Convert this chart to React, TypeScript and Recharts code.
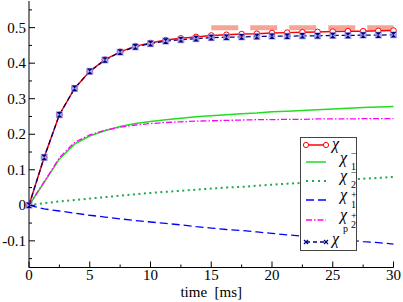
import { Legend, Line, LineChart, XAxis, YAxis } from "recharts";

const time = [0, 1.25, 2.5, 3.75, 5, 6.25, 7.5, 8.75, 10, 11.25, 12.5, 13.75, 15, 16.25, 17.5, 18.75, 20, 21.25, 22.5, 23.75, 25, 26.25, 27.5, 28.75, 30];
const chi = [0, 0.135, 0.255, 0.329, 0.377, 0.41, 0.432, 0.448, 0.457, 0.465, 0.47, 0.474, 0.478, 0.48, 0.482, 0.483, 0.485, 0.486, 0.487, 0.488, 0.489, 0.49, 0.49, 0.491, 0.492];
const chiP = [0, 0.135, 0.255, 0.329, 0.377, 0.409, 0.431, 0.446, 0.455, 0.462, 0.466, 0.469, 0.472, 0.473, 0.474, 0.475, 0.476, 0.476, 0.477, 0.477, 0.478, 0.478, 0.479, 0.479, 0.48];
const chi1Minus = [0, 0.065, 0.13, 0.172, 0.195, 0.21, 0.222, 0.23, 0.236, 0.241, 0.245, 0.249, 0.252, 0.255, 0.258, 0.26, 0.263, 0.265, 0.267, 0.269, 0.271, 0.273, 0.275, 0.277, 0.278];
const chi2Minus = [0, 0.006, 0.011, 0.015, 0.019, 0.023, 0.027, 0.031, 0.035, 0.038, 0.041, 0.044, 0.047, 0.05, 0.052, 0.055, 0.058, 0.061, 0.063, 0.066, 0.069, 0.072, 0.075, 0.077, 0.08];
const chi1Plus = [0, -0.01, -0.016, -0.022, -0.028, -0.033, -0.038, -0.043, -0.047, -0.051, -0.055, -0.06, -0.064, -0.068, -0.071, -0.075, -0.079, -0.083, -0.087, -0.09, -0.094, -0.098, -0.102, -0.105, -0.109];
const chi2Plus = [0, 0.066, 0.134, 0.177, 0.198, 0.211, 0.22, 0.226, 0.23, 0.233, 0.235, 0.237, 0.238, 0.239, 0.24, 0.241, 0.241, 0.242, 0.242, 0.243, 0.243, 0.243, 0.244, 0.244, 0.244];
// asymptote, only drawn from 15 ms on
const limit = [null, null, null, null, null, null, null, null, null, null, null, null, 0.5, 0.5, 0.5, 0.5, 0.5, 0.5, 0.5, 0.5, 0.5, 0.5, 0.5, 0.5, 0.5];

const xTicks = [0, 2.5, 5, 7.5, 10, 12.5, 15, 17.5, 20, 22.5, 25, 27.5, 30];
const yTicks = [-0.15, -0.1, -0.05, 0, 0.05, 0.1, 0.15, 0.2, 0.25, 0.3, 0.35, 0.4, 0.45, 0.5, 0.55];

const data = time.map((t, i) => ({
  t,
  chi: chi[i],
  chiP: chiP[i],
  chi1m: chi1Minus[i],
  chi2m: chi2Minus[i],
  chi1p: chi1Plus[i],
  chi2p: chi2Plus[i],
  limit: limit[i],
}));

const FONT = "'Liberation Serif', serif";

const isMajor = (v: number, step: number) => Math.abs(v / step - Math.round(v / step)) < 1e-6;
const yLabel = (v: number) => (Math.abs(v) < 1e-9 ? "0" : v.toFixed(1));

function BottomTick({ x, y, payload }: any) {
  const v = payload.value;
  const major = isMajor(v, 5);
  return (
    <g>
      <line x1={x} x2={x} y1={y} y2={y - (major ? 6 : 3)} stroke="#000" />
      {major && (
        <text x={x} y={y + 12.5} textAnchor="middle" fontFamily={FONT} fontSize={15} style={{ fontFamily: FONT, fontSize: 15 }} fill="#000">
          {v}
        </text>
      )}
    </g>
  );
}

function TopTick({ x, y, payload }: any) {
  const major = isMajor(payload.value, 5);
  return <line x1={x} x2={x} y1={y} y2={y + (major ? 6 : 3)} stroke="#000" />;
}

function LeftTick({ x, y, payload }: any) {
  const v = payload.value;
  const major = isMajor(v, 0.1);
  return (
    <g>
      <line x1={x} x2={x + (major ? 6 : 3)} y1={y} y2={y} stroke="#000" />
      {major && (
        <text x={x - 3} y={y + 5} textAnchor="end" fontFamily={FONT} fontSize={15} style={{ fontFamily: FONT, fontSize: 15 }} fill="#000">
          {yLabel(v)}
        </text>
      )}
    </g>
  );
}

function RightTick({ x, y, payload }: any) {
  const major = isMajor(payload.value, 0.1);
  return <line x1={x} x2={x - (major ? 6 : 3)} y1={y} y2={y} stroke="#000" />;
}

function TimeLabel({ viewBox }: any) {
  if (!viewBox) return null;
  return (
    <text
      x={viewBox.x + viewBox.width / 2}
      y={viewBox.y + viewBox.height - 5}
      textAnchor="middle"
      fontFamily={FONT}
      fontSize={15}
      style={{ fontFamily: FONT, fontSize: 15, whiteSpace: "pre" }}
      fill="#000"
    >
      {"time  [ms]"}
    </text>
  );
}

function ChiPDot({ cx, cy }: any) {
  if (cx == null || cy == null) return null;
  return (
    <g>
      <rect x={cx - 3.5} y={cy - 3.5} width={7} height={7} fill="#8f8fe6" fillOpacity={0.75} />
      <path d={`M${cx - 2.8},${cy - 2.8}L${cx + 2.8},${cy - 2.8}L${cx - 2.8},${cy + 2.8}L${cx + 2.8},${cy + 2.8}Z`} fill="#000080" />
    </g>
  );
}

// legend rows: y of the sample line / chi / scripts inside the box
const legendRows = [
  { key: "chi", line: 7, chiY: 9, chiX: 31, sup: "", supY: 0, supX: 0, sub: "", subY: 0, color: "#ff0000", dash: "", marker: "circle" },
  { key: "chi1m", line: 24, chiY: 23, chiX: 39, sup: "\u2212", supY: 16, supX: 50, sub: "1", subY: 29, color: "#22dd22", dash: "", marker: "" },
  { key: "chi2m", line: 43, chiY: 41, chiX: 39, sup: "\u2212", supY: 35, supX: 50, sub: "2", subY: 47, color: "#20a850", dash: "2 4", marker: "" },
  { key: "chi1p", line: 62, chiY: 60, chiX: 39, sup: "+", supY: 56.5, supX: 50, sub: "1", subY: 67, color: "#0000ff", dash: "8 4", marker: "" },
  { key: "chi2p", line: 82, chiY: 80.5, chiX: 39, sup: "+", supY: 77.5, supX: 50, sub: "2", subY: 87, color: "#ff00ff", dash: "6 2 1.5 2", marker: "" },
  { key: "chiP", line: 104, chiY: 104, chiX: 31, sup: "p", supY: 93, supX: 42, sub: "", subY: 0, color: "#000080", dash: "4 3", marker: "x" },
];

function LegendBox() {
  return (
    <div
      style={{
        position: "relative",
        width: 57,
        height: 114,
        border: "1px solid #444",
        background: "#fff",
        fontFamily: FONT,
        boxSizing: "border-box",
        color: "#000",
      }}
    >
      <svg width={30} height={112} style={{ position: "absolute", left: 0, top: 0 }}>
        {legendRows.map((r) => (
          <g key={r.key}>
            <line
              x1={5}
              x2={25}
              y1={r.line}
              y2={r.line}
              stroke={r.color}
              strokeWidth={r.dash === "2 4" ? 2 : 1.5}
              strokeDasharray={r.dash || undefined}
            />
            {r.marker === "circle" && (
              <>
                <circle cx={5} cy={r.line} r={2.6} fill="#fff" stroke="#ff0000" />
                <circle cx={25} cy={r.line} r={2.6} fill="#fff" stroke="#ff0000" />
              </>
            )}
            {r.marker === "x" && (
              <>
                <path d={`M3,${r.line - 2}L7,${r.line + 2}M7,${r.line - 2}L3,${r.line + 2}`} stroke="#000080" strokeWidth={1.3} />
                <path d={`M23,${r.line - 2}L27,${r.line + 2}M27,${r.line - 2}L23,${r.line + 2}`} stroke="#000080" strokeWidth={1.3} />
              </>
            )}
          </g>
        ))}
      </svg>
      {legendRows.map((r) => (
        <div key={r.key}>
          <span
            style={{
              position: "absolute",
              left: r.chiX,
              top: r.chiY - 11.5,
              fontSize: 16,
              lineHeight: "16px",
              fontStyle: "italic",
            }}
          >
            χ
          </span>
          {r.sup && (
            <span
              style={{
                position: "absolute",
                left: r.supX,
                top: r.supY - (r.sup === "p" ? 4.8 : 3),
                fontSize: 10,
                lineHeight: "5px",
              }}
            >
              {r.sup}
            </span>
          )}
          {r.sub && (
            <span style={{ position: "absolute", left: 50, top: r.subY - 2.6, fontSize: 10, lineHeight: "5px" }}>
              {r.sub}
            </span>
          )}
        </div>
      ))}
    </div>
  );
}

export default function App() {
  return (
    <div style={{ position: "absolute", left: 0, top: 0, width: 403, height: 302, background: "#fff", fontFamily: FONT }}>
      <LineChart width={403} height={302} data={data} margin={{ top: 1, right: 9.5, bottom: 0, left: 0 }} style={{ fontFamily: FONT }}>
        <XAxis
          xAxisId="b"
          dataKey="t"
          type="number"
          domain={[0, 30]}
          ticks={xTicks}
          interval={0}
          height={34.5}
          tickSize={0}
          tickMargin={0}
          tickLine={false}
          axisLine={{ stroke: "#000" }}
          tick={<BottomTick />}
          label={{ content: (p: any) => <TimeLabel {...p} /> }}
        />
        <XAxis
          xAxisId="t"
          orientation="top"
          dataKey="t"
          type="number"
          domain={[0, 30]}
          ticks={xTicks}
          interval={0}
          height={0}
          tickSize={0}
          tickMargin={0}
          tickLine={false}
          axisLine={{ stroke: "#000" }}
          tick={<TopTick />}
        />
        <YAxis
          yAxisId="l"
          type="number"
          domain={[-0.175, 0.575]}
          allowDataOverflow
          ticks={yTicks}
          interval={0}
          width={29}
          tickSize={0}
          tickMargin={0}
          tickLine={false}
          axisLine={{ stroke: "#000" }}
          tick={<LeftTick />}
        />
        <YAxis
          yAxisId="r"
          orientation="right"
          type="number"
          domain={[-0.175, 0.575]}
          allowDataOverflow
          ticks={yTicks}
          interval={0}
          width={0}
          tickSize={0}
          tickMargin={0}
          tickLine={false}
          axisLine={{ stroke: "#000" }}
          tick={<RightTick />}
        />
        <Line
          xAxisId="b"
          yAxisId="l"
          dataKey="limit"
          stroke="#f5a595"
          strokeWidth={5}
          strokeDasharray="27 12"
          dot={false}
          isAnimationActive={false}
        />
        <Line xAxisId="b" yAxisId="l" dataKey="chi2m" stroke="#20a850" strokeWidth={2} strokeDasharray="2 3.5" dot={false} isAnimationActive={false} />
        <Line xAxisId="b" yAxisId="l" dataKey="chi1p" stroke="#0000ff" strokeWidth={1.3} strokeDasharray="8 4" dot={false} isAnimationActive={false} />
        <Line xAxisId="b" yAxisId="l" dataKey="chi1m" stroke="#22dd22" strokeWidth={1.5} dot={false} isAnimationActive={false} />
        <Line xAxisId="b" yAxisId="l" dataKey="chi2p" stroke="#ff00ff" strokeWidth={1.3} strokeDasharray="6 2 1.5 2" dot={false} isAnimationActive={false} />
        <Line
          xAxisId="b"
          yAxisId="l"
          dataKey="chi"
          stroke="#ff0000"
          strokeWidth={1.5}
          dot={{ r: 2.8, stroke: "#ff0000", strokeWidth: 1, fill: "#fff" }}
          isAnimationActive={false}
        />
        <Line
          xAxisId="b"
          yAxisId="l"
          dataKey="chiP"
          stroke="#000080"
          strokeWidth={1.3}
          strokeDasharray="5 3"
          dot={(p: any) => <ChiPDot key={`p${p.index}`} {...p} />}
          isAnimationActive={false}
        />
        <Legend
          layout="vertical"
          align="center"
          verticalAlign="middle"
          content={() => <LegendBox />}
          wrapperStyle={{ left: 300, top: 137, width: 57, height: 114 }}
        />
      </LineChart>
    </div>
  );
}
